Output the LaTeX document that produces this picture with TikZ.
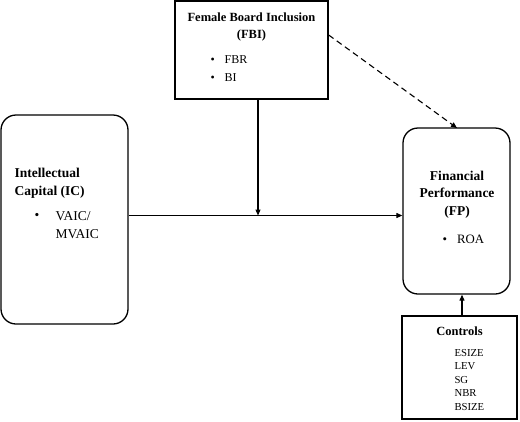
\documentclass[tikz,border=0pt]{standalone}
\usepackage{fontspec}
\setmainfont{Liberation Serif}
\usetikzlibrary{arrows.meta}
\begin{document}
\begin{tikzpicture}[x=1pt,y=-1pt,
  box/.style={draw,line width=1.3pt,inner sep=0pt},
  rbox/.style={box,rounded corners=15pt},
  conn/.style={line width=1.1pt,-{Triangle[length=6pt,width=5pt]}},
  ttl/.style={font=\fontsize{12.5}{17}\selectfont\bfseries,align=center},
  bigttl/.style={font=\fontsize{13.5}{17.5}\selectfont\bfseries,align=center},
  txt/.style={font=\fontsize{12}{15}\selectfont,anchor=west}]
\useasboundingbox (0,0) rectangle (520,421);
% boxes
\node[box,minimum width=153pt,minimum height=98pt] (fbi) at (251.5,50) {};
\node[rbox,minimum width=127pt,minimum height=209pt] (ic) at (64.5,219.5) {};
\node[rbox,minimum width=107pt,minimum height=166pt] (fp) at (456.5,211) {};
\node[box,minimum width=115pt,minimum height=103pt] (ctl) at (459.5,367.5) {};
% texts
\node[ttl] (fbit) at (251.5,26.5) {Female Board Inclusion\\(FBI)};
\node[txt] (fbib1) at (207,60) {•\hspace{10pt}FBR};
\node[txt] (fbib2) at (207,78) {•\hspace{10pt}BI};
\node[bigttl,anchor=west,align=left] (ict) at (11,183) {Intellectual\\Capital (IC)};
\node[txt,font=\fontsize{13.5}{18}\selectfont] (icb) at (31,216) {•};
\node[txt,align=left,font=\fontsize{13.5}{18}\selectfont] (icv) at (52,225) {VAIC/\\MVAIC};
\node[bigttl] (fpt) at (457,194.5) {Financial\\Performance\\(FP)};
\node[txt,font=\fontsize{12.8}{15}\selectfont] (fpb) at (439,239.5) {•\hspace{10pt}ROA};
\node[ttl] (ctlt) at (459.5,331) {Controls};
\node[txt,align=left,font=\fontsize{10.7}{13.5}\selectfont] (ctlv) at (451,380) {ESIZE\\LEV\\SG\\NBR\\BSIZE};
% connectors
\coordinate (join) at (258,215.5);
\draw[conn] (ic.east |- join) -- (fp.west |- join);
\draw[conn] (fbi.south -| join) -- (join);
\draw[conn,dashed,dash pattern=on 6pt off 4pt] (fbi.east |- 0,35) -- (457,128);
\draw[conn] (ctl.north -| 462,0) -- (fp.south -| 462,0);
\end{tikzpicture}
\end{document}
